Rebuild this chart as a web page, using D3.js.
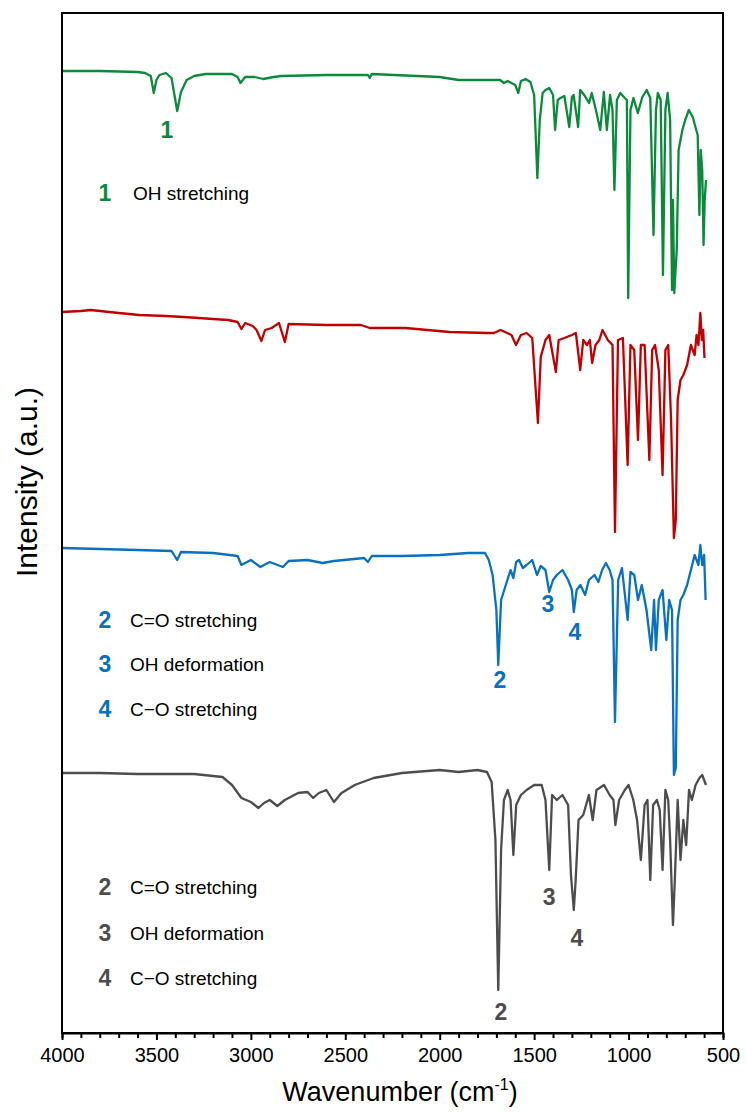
<!DOCTYPE html>
<html>
<head>
<meta charset="utf-8">
<script src="https://cdn.jsdelivr.net/npm/d3@7.9.0/dist/d3.min.js"></script>
<style>
  body { margin: 0; background: #fff; }
  svg { display: block; font-family: "Liberation Sans", Arial, sans-serif; }
</style>
</head>
<body>
<div id="chart"></div>
<script>
// spectra as [wavenumber, intensity (a.u., offset stacked)]
const greenSpectrum = [
  [4000, 962], [3800, 962], [3600, 961], [3560, 960], [3530, 957], [3514, 940], [3500, 953],
  [3484, 958], [3450, 960], [3420, 955], [3390, 922], [3370, 941], [3340, 953], [3300, 957],
  [3240, 959], [3100, 959], [3070, 956], [3055, 950], [3030, 956], [2980, 956], [2935, 954],
  [2880, 956], [2840, 957], [2600, 958], [2380, 958], [2370, 955], [2360, 959], [2000, 956],
  [1900, 953], [1800, 953], [1713, 953], [1680, 953], [1660, 950], [1640, 952], [1600, 948],
  [1584, 940], [1570, 952], [1545, 954], [1520, 951], [1500, 938], [1483, 855], [1470, 913],
  [1455, 940], [1440, 943], [1420, 945], [1400, 938], [1389, 903], [1375, 933], [1361, 935],
  [1340, 937], [1314, 906], [1300, 936], [1291, 938], [1267, 906], [1256, 943], [1235, 938],
  [1209, 930], [1195, 940], [1173, 923], [1150, 903], [1131, 941], [1115, 903], [1098, 938],
  [1085, 923], [1075, 843], [1062, 933], [1044, 940], [1020, 935], [1009, 933], [1002, 735],
  [990, 923], [974, 935], [951, 920], [927, 936], [904, 943], [885, 935], [868, 798],
  [855, 923], [845, 940], [830, 933], [818, 758], [805, 923], [793, 940], [780, 913],
  [770, 743], [765, 833], [758, 740], [745, 783], [735, 883], [715, 903], [700, 913],
  [681, 923], [660, 916], [646, 906], [634, 898], [625, 818], [618, 883], [610, 863],
  [603, 788], [597, 833], [590, 853]
];

const redSpectrum = [
  [4000, 721], [3900, 722], [3848, 723], [3700, 720], [3590, 718], [3450, 717], [3355, 716],
  [3200, 714], [3120, 713], [3070, 711], [3050, 704], [3030, 710], [2990, 707], [2970, 703],
  [2944, 692], [2925, 703], [2890, 705], [2851, 710], [2820, 691], [2800, 709], [2600, 708],
  [2417, 708], [2370, 705], [2182, 705], [1947, 701], [1750, 700], [1713, 700], [1678, 703],
  [1620, 698], [1596, 688], [1570, 698], [1540, 700], [1510, 695], [1480, 610], [1465, 676],
  [1440, 693], [1420, 698], [1385, 661], [1370, 693], [1340, 695], [1300, 698], [1279, 700],
  [1256, 663], [1240, 693], [1220, 688], [1205, 693], [1193, 670], [1175, 688], [1155, 693],
  [1138, 703], [1110, 693], [1085, 688], [1072, 501], [1056, 693], [1030, 695], [1005, 568],
  [990, 688], [970, 683], [950, 593], [935, 688], [915, 688], [890, 573], [875, 683],
  [860, 688], [840, 663], [820, 558], [805, 683], [790, 688], [775, 613], [760, 495],
  [750, 513], [740, 633], [725, 653], [710, 658], [690, 668], [670, 688], [650, 678],
  [640, 698], [630, 688], [620, 720], [612, 693], [605, 703], [598, 675]
];

const blueSpectrum = [
  [4000, 485], [3800, 484], [3600, 483], [3420, 482], [3390, 473], [3370, 481], [3200, 480],
  [3070, 477], [3050, 468], [3000, 473], [2950, 466], [2900, 471], [2830, 466], [2800, 472],
  [2700, 473], [2620, 470], [2560, 472], [2400, 475], [2380, 471], [2360, 477], [2200, 477],
  [2000, 478], [1850, 480], [1760, 480], [1740, 473], [1720, 458], [1700, 423], [1690, 368],
  [1675, 433], [1650, 448], [1625, 463], [1610, 455], [1595, 471], [1580, 473], [1560, 465],
  [1540, 468], [1510, 473], [1485, 458], [1465, 467], [1440, 463], [1420, 441], [1400, 453],
  [1380, 458], [1350, 463], [1320, 453], [1300, 443], [1290, 421], [1275, 443], [1255, 448],
  [1230, 438], [1210, 453], [1180, 458], [1160, 451], [1140, 463], [1120, 470], [1100, 463],
  [1085, 453], [1072, 311], [1055, 453], [1035, 465], [1005, 413], [990, 461], [970, 458],
  [950, 433], [930, 448], [905, 423], [880, 383], [865, 433], [855, 383], [840, 433],
  [820, 443], [800, 393], [785, 433], [770, 423], [760, 258], [750, 265], [740, 413],
  [725, 433], [710, 438], [690, 448], [670, 463], [650, 478], [630, 468], [620, 488],
  [610, 468], [600, 478], [592, 433]
];

const graySpectrum = [
  [4000, 260], [3800, 260], [3600, 259], [3300, 259], [3150, 256], [3100, 248], [3050, 235],
  [3000, 231], [2960, 225], [2930, 230], [2900, 233], [2860, 227], [2820, 233], [2750, 240],
  [2700, 241], [2670, 235], [2640, 240], [2600, 243], [2560, 231], [2520, 240], [2450, 248],
  [2350, 255], [2200, 260], [2000, 263], [1900, 261], [1800, 263], [1750, 261], [1725, 251],
  [1705, 193], [1690, 43], [1675, 183], [1660, 233], [1640, 243], [1625, 233], [1610, 178],
  [1595, 228], [1570, 238], [1540, 243], [1500, 248], [1460, 248], [1440, 233], [1420, 163],
  [1405, 238], [1380, 233], [1350, 238], [1320, 228], [1305, 158], [1290, 123], [1280, 153],
  [1265, 213], [1240, 218], [1210, 238], [1190, 213], [1170, 243], [1130, 248], [1100, 238],
  [1080, 233], [1070, 208], [1050, 233], [1020, 243], [1000, 248], [975, 233], [955, 213],
  [935, 173], [915, 228], [900, 233], [885, 153], [870, 228], [850, 233], [835, 223],
  [820, 163], [805, 243], [790, 233], [780, 193], [765, 108], [755, 153], [740, 233],
  [725, 173], [710, 213], [695, 188], [680, 243], [665, 233], [645, 248], [625, 255],
  [610, 258], [600, 253], [590, 248]
];

const series = [
  { name: 'green', color: '#0a8a3a', data: greenSpectrum },
  { name: 'red', color: '#c00000', data: redSpectrum },
  { name: 'blue', color: '#0a70c0', data: blueSpectrum },
  { name: 'gray', color: '#4d4d4d', data: graySpectrum }
];

// peak markers: [label, wavenumber, intensity, color]
const peakLabels = [
  ['1', 3444, 903, '#0a8a3a'],
  ['2', 1681, 353, '#0a70c0'],
  ['3', 1427, 429, '#0a70c0'],
  ['4', 1284, 401, '#0a70c0'],
  ['2', 1676, 21, '#4d4d4d'],
  ['3', 1421, 136, '#4d4d4d'],
  ['4', 1273, 95, '#4d4d4d']
];

// legend blocks: [number, text, y, color]
const legendItems = [
  ['1', 'OH stretching', 193, '#0a8a3a'],
  ['2', 'C=O stretching', 620, '#0a70c0'],
  ['3', 'OH deformation', 664, '#0a70c0'],
  ['4', 'C\u2212O stretching', 709, '#0a70c0'],
  ['2', 'C=O stretching', 887, '#4d4d4d'],
  ['3', 'OH deformation', 933, '#4d4d4d'],
  ['4', 'C\u2212O stretching', 978, '#4d4d4d']
];

const tickValues = d3.range(500, 4001, 100);

const width = 747, height = 1115;
const margin = { top: 13, right: 24, bottom: 82, left: 62 };

const svg = d3.select('#chart').append('svg')
  .attr('width', width)
  .attr('height', height);

const x = d3.scaleLinear()
  .domain([4000, 500])
  .range([margin.left, width - margin.right]);

const y = d3.scaleLinear()
  .domain([0, 1020])
  .range([height - margin.bottom, margin.top]);

const line = d3.line()
  .x(d => x(d[0]))
  .y(d => y(d[1]));

svg.append('g')
  .selectAll('path')
  .data(series)
  .join('path')
  .attr('d', d => line(d.data))
  .attr('fill', 'none')
  .attr('stroke', d => d.color)
  .attr('stroke-width', 2.3)
  .attr('stroke-linejoin', 'round');

// frame
svg.append('rect')
  .attr('x', margin.left)
  .attr('y', margin.top)
  .attr('width', width - margin.left - margin.right)
  .attr('height', height - margin.top - margin.bottom)
  .attr('fill', 'none')
  .attr('stroke', '#000')
  .attr('stroke-width', 2);

// x axis
const xAxis = svg.append('g')
  .attr('transform', `translate(0, ${height - margin.bottom})`)
  .call(d3.axisBottom(x)
    .tickValues(tickValues)
    .tickSize(5)
    .tickPadding(10)
    .tickFormat(d => d % 500 === 0 ? d : ''));

xAxis.select('.domain').attr('stroke-width', 2);
xAxis.selectAll('.tick line').attr('stroke-width', 2)
  .attr('y2', d => d % 500 === 0 ? 7 : 5);
xAxis.selectAll('.tick text')
  .attr('font-size', 20)
  .attr('font-family', '"Liberation Sans", Arial, sans-serif')
  .attr('fill', '#000');

// axis titles
const xTitle = svg.append('text')
  .attr('x', 400)
  .attr('y', 1101)
  .attr('text-anchor', 'middle')
  .attr('font-size', 27);
xTitle.append('tspan').text('Wavenumber (cm');
xTitle.append('tspan').text('-1').attr('font-size', 16).attr('dy', -11);
xTitle.append('tspan').text(')').attr('dy', 11);

svg.append('text')
  .attr('transform', 'translate(37, 482) rotate(-90)')
  .attr('text-anchor', 'middle')
  .attr('font-size', 30)
  .text('Intensity (a.u.)');

// peak numbers
svg.append('g')
  .selectAll('text')
  .data(peakLabels)
  .join('text')
  .attr('x', d => x(d[1]))
  .attr('y', d => y(d[2]))
  .attr('dy', '0.35em')
  .attr('text-anchor', 'middle')
  .attr('font-size', 23)
  .attr('font-weight', 'bold')
  .attr('fill', d => d[3])
  .text(d => d[0]);

// legends
const leg = svg.append('g')
  .selectAll('g')
  .data(legendItems)
  .join('g')
  .attr('transform', d => `translate(0, ${d[2]})`);

leg.append('text')
  .attr('x', 105)
  .attr('dy', '0.35em')
  .attr('text-anchor', 'middle')
  .attr('font-size', 23)
  .attr('font-weight', 'bold')
  .attr('fill', d => d[3])
  .text(d => d[0]);

leg.append('text')
  .attr('x', (d, i) => i === 0 ? 133 : 130)
  .attr('dy', '0.35em')
  .attr('font-size', 19)
  .attr('fill', '#000')
  .text(d => d[1]);
</script>
</body>
</html>
